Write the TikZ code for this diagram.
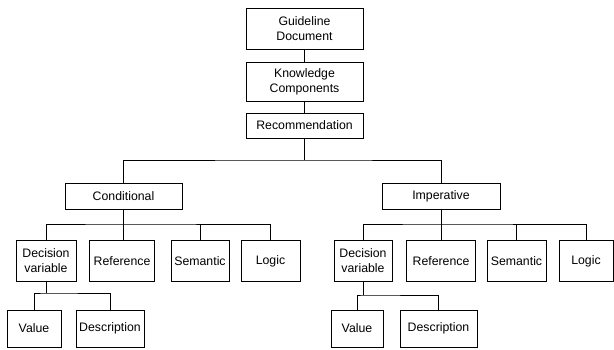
\documentclass[tikz,border=0pt]{standalone}
\usepackage{fontspec}
\setmainfont{Liberation Sans}
\begin{document}
\begin{tikzpicture}[x=1pt,y=-1pt,
  box/.style={draw, line width=0.9pt, rectangle, inner sep=0pt, align=center,
    font=\fontsize{12.3}{15}\selectfont},
  conn/.style={draw, line width=0.9pt}]
\useasboundingbox (0,0) rectangle (614,349);
% top chain
\node[box, minimum width=117, minimum height=41] (gd) at (304.5,29) {Guideline\\Document};
\node[box, minimum width=117, minimum height=39] (kc) at (304.5,81.5) {Knowledge\\Components};
\node[box, minimum width=117, minimum height=25] (rec) at (304.5,125.5) {Recommendation};
% second level
\node[box, minimum width=117, minimum height=26] (cond) at (123.5,196) {Conditional};
\node[box, minimum width=118, minimum height=26] (imp) at (441,196) {Imperative};
% left children
\node[box, minimum width=60, minimum height=41] (ldv) at (46,261) {Decision\\variable};
\node[box, minimum width=65, minimum height=41] (lref) at (122,261) {Reference};
\node[box, minimum width=58, minimum height=41] (lsem) at (200,261) {Semantic};
\node[box, minimum width=59, minimum height=41] (llog) at (270.5,261) {Logic};
\node[box, minimum width=54, minimum height=37] (lval) at (34,328.5) {Value};
\node[box, minimum width=68, minimum height=37] (ldesc) at (110,328.5) {Description};
% right children
\node[box, minimum width=58, minimum height=41] (rdv) at (363,261) {Decision\\variable};
\node[box, minimum width=69, minimum height=41] (rref) at (441,261) {Reference};
\node[box, minimum width=59, minimum height=41] (rsem) at (516.5,261) {Semantic};
\node[box, minimum width=54, minimum height=41] (rlog) at (586,261) {Logic};
\node[box, minimum width=52, minimum height=37] (rval) at (357,328.5) {Value};
\node[box, minimum width=77, minimum height=37] (rdesc) at (438.5,328.5) {Description};
% bus coordinates
\coordinate (b0) at (304.5,160);
\coordinate (b1) at (123.5,224);
\coordinate (b2) at (441,224);
\coordinate (b3) at (46,293);
\coordinate (b4) at (363,295);
% connectors
\path[conn] (gd) -- (kc);
\path[conn] (kc) -- (rec);
\path[conn] (rec.south) -- (b0);
\path[conn] (cond.north) |- (b0) -| (imp.north);
\path[conn] (cond.south) -- (cond.south |- lref.north);
\path[conn] (ldv.north) |- (b1) -| (llog.north);
\path[conn] (lsem.north) -- (lsem.north |- b1);
\path[conn] (imp.south) -- (imp.south |- rref.north);
\path[conn] (rdv.north) |- (b2) -| (rlog.north);
\path[conn] (rsem.north) -- (rsem.north |- b2);
\path[conn] (ldv.south) -- (b3);
\path[conn] (lval.north) |- (b3) -| (ldesc.north);
\path[conn] (rdv.south) -- (b4);
\path[conn] (rval.north) |- (b4) -| (rdesc.north);
\end{tikzpicture}
\end{document}
